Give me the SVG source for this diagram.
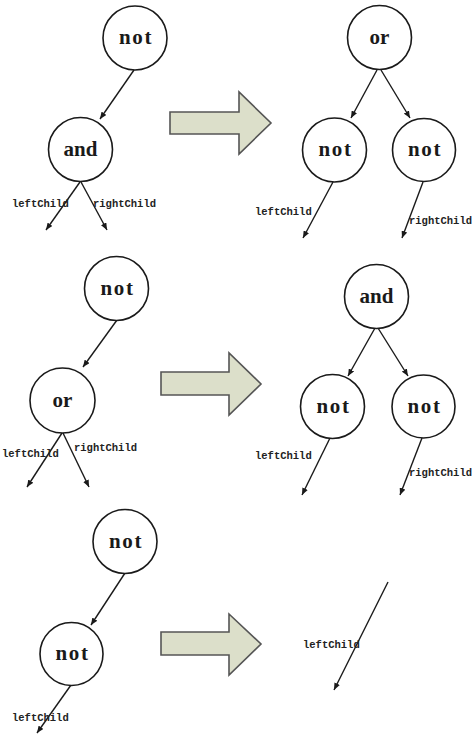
<svg xmlns="http://www.w3.org/2000/svg" width="476" height="737" viewBox="0 0 476 737">
  <style>
    .node circle { fill: #ffffff; stroke: #1a1a1a; stroke-width: 1.6; }
    .mono { font-family: "Liberation Serif", "DejaVu Serif", serif; font-weight: bold; font-size: 21px; letter-spacing: 1.6px; fill: #1a1a1a; text-anchor: middle; }
    .serif { font-family: "Liberation Serif", "DejaVu Serif", serif; font-weight: bold; font-size: 21px; fill: #1a1a1a; text-anchor: middle; }
    .lbl { font-family: "Liberation Mono", "DejaVu Sans Mono", monospace; font-weight: bold; font-size: 10.5px; fill: #222222; }
    .edge { stroke: #1a1a1a; stroke-width: 1.4; fill: none; marker-end: url(#tip); }
    .block { fill: #dcdfca; stroke: #555555; stroke-width: 1.6; stroke-linejoin: miter; }
  </style>
  <defs>
    <marker id="tip" markerUnits="userSpaceOnUse" markerWidth="8" markerHeight="6" refX="7" refY="3" orient="auto">
      <path d="M0,0 L7,3 L0,6 z" fill="#1a1a1a"/>
    </marker>
  </defs>

  <!-- connectors -->
  <g id="connectors">
    <!-- tree 1: not(and) -->
    <line class="edge" x1="134" y1="70" x2="100" y2="119"/>
    <line class="edge" x1="80" y1="182" x2="46" y2="230"/>
    <line class="edge" x1="81" y1="182" x2="107" y2="230"/>
    <!-- tree 2: or(not, not) -->
    <line class="edge" x1="377" y1="70" x2="351" y2="118"/>
    <line class="edge" x1="381" y1="70" x2="410" y2="118"/>
    <line class="edge" x1="333" y1="182" x2="303" y2="238"/>
    <line class="edge" x1="423" y1="182" x2="402" y2="238"/>
    <!-- tree 3: not(or) -->
    <line class="edge" x1="117" y1="320" x2="83" y2="367"/>
    <line class="edge" x1="62" y1="433" x2="27" y2="487"/>
    <line class="edge" x1="63" y1="433" x2="89" y2="487"/>
    <!-- tree 4: and(not, not) -->
    <line class="edge" x1="375" y1="328" x2="348" y2="376"/>
    <line class="edge" x1="378" y1="328" x2="408" y2="376"/>
    <line class="edge" x1="330" y1="438" x2="302" y2="495"/>
    <line class="edge" x1="422" y1="438" x2="400" y2="495"/>
    <!-- tree 5: not(not) -->
    <line class="edge" x1="125" y1="573" x2="91" y2="625"/>
    <line class="edge" x1="71" y1="685" x2="37" y2="733"/>
    <!-- result 3 -->
    <line class="edge" x1="388" y1="582" x2="334" y2="690"/>
  </g>

  <!-- transformation arrows -->
  <g id="arrow1"><polygon class="block" points="170,112 239,112 239,92 271,123 239,154 239,134 170,134"/></g>
  <g id="arrow2"><polygon class="block" points="161,372 229,372 229,353 261,384 229,415 229,395 161,395"/></g>
  <g id="arrow3"><polygon class="block" points="161,632 229,632 229,614 261,644 229,675 229,655 161,655"/></g>

  <!-- tree 1 -->
  <g id="t1-not" class="node"><circle cx="135" cy="38" r="32"/><text class="mono" x="136" y="44">not</text></g>
  <g id="t1-and" class="node"><circle cx="80.5" cy="149.5" r="32"/><text class="serif" x="80.5" y="156">and</text></g>
  <g id="t1-labels">
    <text class="lbl" x="12" y="207">leftChild</text>
    <text class="lbl" x="93" y="207">rightChild</text>
  </g>

  <!-- tree 2 -->
  <g id="t2-or" class="node"><circle cx="379.5" cy="37.5" r="32"/><text class="serif" x="379.5" y="44">or</text></g>
  <g id="t2-notl" class="node"><circle cx="334.5" cy="150" r="32"/><text class="mono" x="335.5" y="156">not</text></g>
  <g id="t2-notr" class="node"><circle cx="424" cy="150" r="31.5"/><text class="mono" x="425" y="156">not</text></g>
  <g id="t2-labels">
    <text class="lbl" x="255" y="215">leftChild</text>
    <text class="lbl" x="409" y="224">rightChild</text>
  </g>

  <!-- tree 3 -->
  <g id="t3-not" class="node"><circle cx="116.5" cy="288.5" r="32"/><text class="mono" x="117.5" y="295">not</text></g>
  <g id="t3-or" class="node"><circle cx="62.5" cy="400.5" r="32.5"/><text class="serif" x="62.5" y="407">or</text></g>
  <g id="t3-labels">
    <text class="lbl" x="2" y="457">leftChild</text>
    <text class="lbl" x="74" y="451">rightChild</text>
  </g>

  <!-- tree 4 -->
  <g id="t4-and" class="node"><circle cx="376.5" cy="296.5" r="32"/><text class="serif" x="376.5" y="303">and</text></g>
  <g id="t4-notl" class="node"><circle cx="332.5" cy="406.5" r="32"/><text class="mono" x="333.5" y="413">not</text></g>
  <g id="t4-notr" class="node"><circle cx="423.5" cy="406.5" r="31.5"/><text class="mono" x="424.5" y="413">not</text></g>
  <g id="t4-labels">
    <text class="lbl" x="255" y="459">leftChild</text>
    <text class="lbl" x="409" y="476">rightChild</text>
  </g>

  <!-- tree 5 -->
  <g id="t5-not" class="node"><circle cx="125" cy="541.5" r="32"/><text class="mono" x="126" y="548">not</text></g>
  <g id="t5-not2" class="node"><circle cx="71.5" cy="654" r="31.5"/><text class="mono" x="72.5" y="660">not</text></g>
  <g id="t5-labels">
    <text class="lbl" x="12" y="721">leftChild</text>
  </g>

  <!-- result 3 -->
  <g id="t6-labels">
    <text class="lbl" x="303" y="648">leftChild</text>
  </g>
</svg>
